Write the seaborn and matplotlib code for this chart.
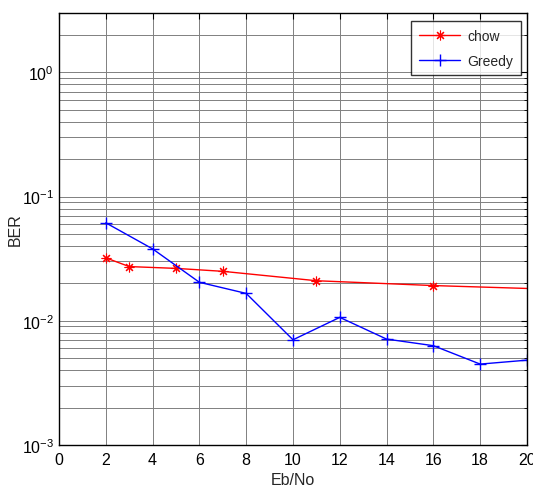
import pandas as pd
import matplotlib
matplotlib.use('Agg')
import matplotlib.pyplot as plt
import seaborn as sns
from matplotlib.ticker import LogLocator, MultipleLocator

# data
greedy_x = [2, 4, 6, 8, 10, 12, 14, 16, 18, 20]
greedy_ber = [0.0614, 0.0379, 0.0204, 0.0166, 0.00703, 0.01065, 0.00712, 0.0063, 0.00448, 0.00482]
chow_x = [2, 3, 5, 7, 11, 16, 20]
chow_ber = [0.0321, 0.0273, 0.0264, 0.0250, 0.0210, 0.0192, 0.0182]

sns.set_style("white")
plt.rcParams['font.family'] = ['Liberation Sans', 'DejaVu Sans']
plt.rcParams['mathtext.fontset'] = 'custom'
plt.rcParams['mathtext.rm'] = 'Liberation Sans'
plt.rcParams['mathtext.it'] = 'Liberation Sans'
plt.rcParams['mathtext.default'] = 'regular'

chow_df = pd.DataFrame({'Eb/No': chow_x, 'BER': chow_ber})
greedy_df = pd.DataFrame({'Eb/No': greedy_x, 'BER': greedy_ber})

fig = plt.figure(figsize=(5.33, 4.89), dpi=100)
ax = fig.add_axes([0.1107, 0.0879, 0.8780, 0.8835])

# matlab style '*' marker -> 8 spoke asterisk
sns.lineplot(data=chow_df, x='Eb/No', y='BER', ax=ax, color='red', lw=1.0,
             marker=(8, 2, 0), markersize=7, markeredgewidth=0.8,
             markevery=[0, 1, 2, 3, 4, 5], markeredgecolor='red', label='chow')
sns.lineplot(data=greedy_df, x='Eb/No', y='BER', ax=ax, color='blue', lw=1.0,
             marker='+', markersize=9, markeredgewidth=1.0,
             markeredgecolor='blue', label='Greedy')

ax.set_yscale('log')
ax.set_xlim(0, 20)
ax.set_ylim(1e-3, 3)
ax.xaxis.set_major_locator(MultipleLocator(2))
ax.yaxis.set_major_locator(LogLocator(base=10, numticks=10))
ax.yaxis.set_minor_locator(LogLocator(base=10, subs=range(2, 10), numticks=20))

ax.grid(True, which='major', color='0.5', lw=0.7, ls='-')
ax.grid(True, which='minor', axis='y', color='0.5', lw=0.7, ls='-')
ax.set_axisbelow(True)

ax.tick_params(axis='both', which='both', direction='in', top=True, right=True,
               labelsize=11.5, colors='black')
ax.tick_params(which='major', length=4)
ax.tick_params(which='minor', length=2.5)
ax.tick_params(axis='x', pad=5)
for s in ax.spines.values():
    s.set_color('black')
    s.set_linewidth(1.0)

ax.set_xlabel('Eb/No', fontsize=11.5)
ax.set_ylabel('BER', fontsize=11.5)
ax.xaxis.set_label_coords(0.499, -0.063)
ax.yaxis.set_label_coords(-0.077, 0.5)

leg = ax.legend(loc='upper right', bbox_to_anchor=(0.987, 0.9815), fontsize=10,
                frameon=True, fancybox=False, edgecolor='black', borderaxespad=0,
                handlelength=3.0, borderpad=0.55, labelspacing=0.8, handletextpad=0.5)
leg.get_frame().set_linewidth(1.0)

fig.savefig('out.png', dpi=100)
